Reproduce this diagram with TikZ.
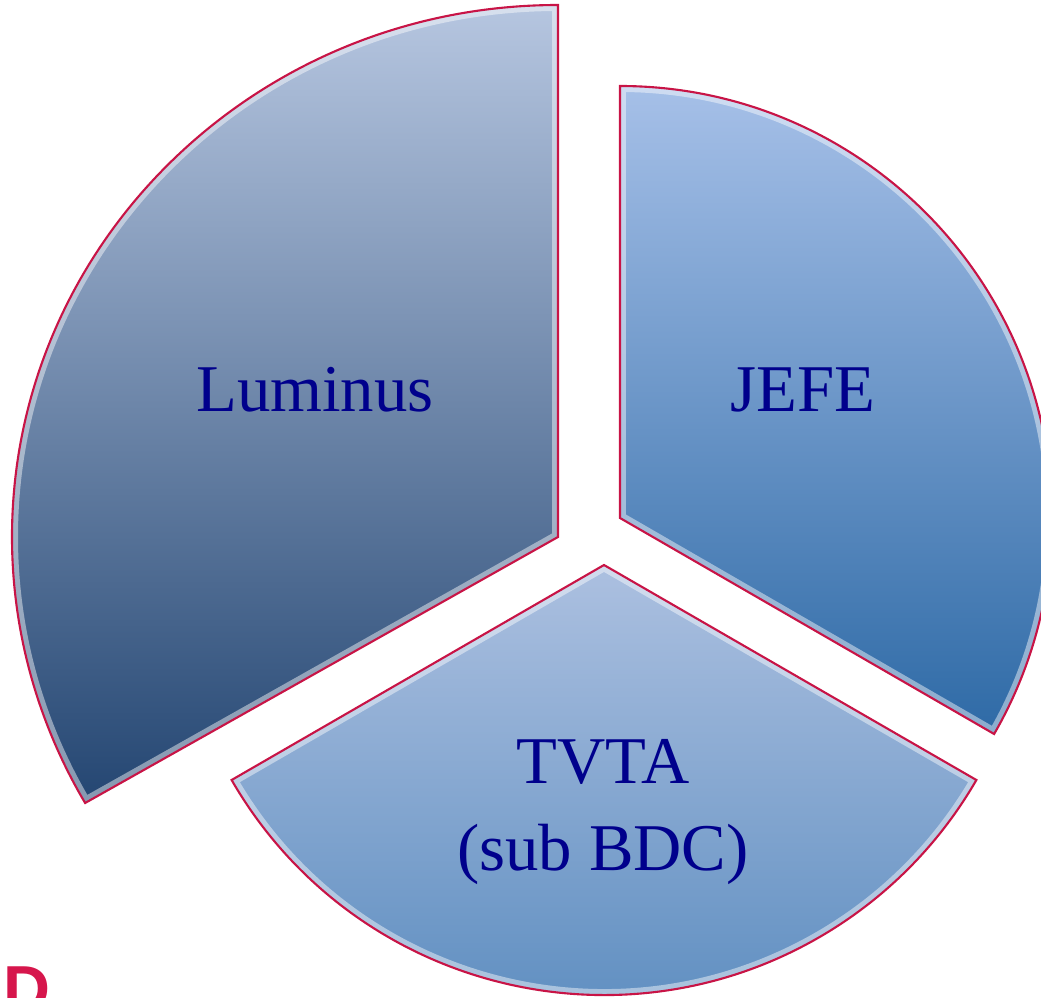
\documentclass[tikz,border=0pt]{standalone}
\usepackage{fontspec}
\setmainfont{Liberation Serif}
\newfontfamily\labelsans{Liberation Sans}
\usepackage{xcolor}
\definecolor{rim}{RGB}{200,20,70}
\definecolor{ink}{RGB}{0,0,140}
\definecolor{lumtop}{RGB}{182,198,224}
\definecolor{lumbot}{RGB}{36,70,114}
\definecolor{jeftop}{RGB}{166,192,232}
\definecolor{jefbot}{RGB}{46,106,166}
\definecolor{tvttop}{RGB}{172,192,224}
\definecolor{tvtbot}{RGB}{88,138,190}
\definecolor{redD}{RGB}{214,22,76}
\tikzset{
	slicerim/.style={draw=rim, line width=0.6pt, line join=miter},
	bevel/.style={draw=white, opacity=0.45, line width=0.12cm},
	slicetext/.style={text=ink, font=\fontsize{19}{25}\selectfont, align=center}
}

\begin{document}
\begin{tikzpicture}
			\useasboundingbox (0,0) rectangle (10.41,9.98);
			%\draw (0,0) rectangle (10.41,9.98);
			\shade[top color=lumtop, bottom color=lumbot] (5.58,4.61) -- (5.58,9.93) arc[start angle=90, end angle=210, x radius=5.46, y radius=5.32] -- cycle;
			\begin{scope}
				\clip (5.58,4.61) -- (5.58,9.93) arc[start angle=90, end angle=210, x radius=5.46, y radius=5.32] -- cycle;
				\draw[bevel] (5.58,4.61) -- (5.58,9.93) arc[start angle=90, end angle=210, x radius=5.46, y radius=5.32] -- cycle;
			\end{scope}
			\draw[slicerim] (5.58,4.61) -- (5.58,9.93) arc[start angle=90, end angle=210, x radius=5.46, y radius=5.32] -- cycle;
			\shade[top color=jeftop, bottom color=jefbot] (6.20,4.80) -- (6.20,9.12) arc[start angle=90, end angle=-30, radius=4.32] -- cycle;
			\begin{scope}
				\clip (6.20,4.80) -- (6.20,9.12) arc[start angle=90, end angle=-30, radius=4.32] -- cycle;
				\draw[bevel] (6.20,4.80) -- (6.20,9.12) arc[start angle=90, end angle=-30, radius=4.32] -- cycle;
			\end{scope}
			\draw[slicerim] (6.20,4.80) -- (6.20,9.12) arc[start angle=90, end angle=-30, radius=4.32] -- cycle;
			\shade[top color=tvttop, bottom color=tvtbot] (6.04,4.33) -- ++(210:4.30) arc[start angle=210, end angle=330, radius=4.30] -- cycle;
			\begin{scope}
				\clip (6.04,4.33) -- ++(210:4.30) arc[start angle=210, end angle=330, radius=4.30] -- cycle;
				\draw[bevel] (6.04,4.33) -- ++(210:4.30) arc[start angle=210, end angle=330, radius=4.30] -- cycle;
			\end{scope}
			\draw[slicerim] (6.04,4.33) -- ++(210:4.30) arc[start angle=210, end angle=330, radius=4.30] -- cycle;
			\node[slicetext] (luminus) at (3.15,6.08) {Luminus};
			\node[slicetext] (jefe) at (8.03,6.08) {JEFE};
			\node[slicetext] (tvta) at (6.03,1.86) {TVTA\\(sub BDC)};
			\node[anchor=base west, inner sep=0pt, text=redD, font=\labelsans\bfseries\fontsize{18.5}{20}\selectfont] (letterd) at (0.03,-0.14) {D};
		\end{tikzpicture}
\end{document}
